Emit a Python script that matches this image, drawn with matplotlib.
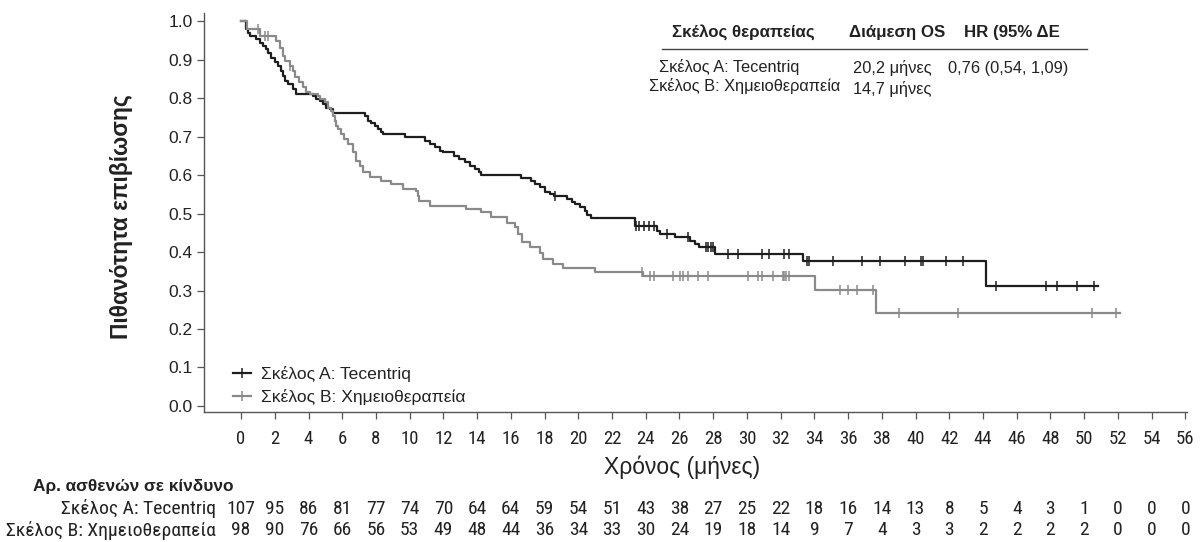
import matplotlib
matplotlib.use("Agg")
import matplotlib.pyplot as plt
from matplotlib.lines import Line2D
import matplotlib.transforms as mtransforms

# ---------------- data ----------------
# Arm A (Tecentriq): step times (months) and survival after each step
a_times = [0, 0.31, 0.41, 0.5, 0.9, 1.1, 1.3, 1.49, 1.59, 1.79, 1.99, 2.19, 2.38, 2.48, 2.58,
           2.78, 3.07, 3.27, 4.26, 4.46, 4.66, 4.85, 5.05, 5.25, 5.45, 7.33, 7.53, 7.73, 7.92,
           8.12, 8.32, 8.42, 9.73, 10.91, 11.2, 11.51, 11.8, 12.0, 12.6, 12.9, 13.29, 13.6, 13.9,
           14.1, 14.22, 16.63, 17.22, 17.42, 17.72, 18.01, 18.31, 18.55, 19.3, 19.6, 19.79, 20.09,
           20.39, 20.52, 20.78, 23.35, 24.64, 24.84, 25.73, 26.62, 26.91, 27.17, 28.1, 33.35, 44.17,
           50.85]
a_surv = [1.0, 0.98, 0.971, 0.963, 0.954, 0.945, 0.937, 0.928, 0.917, 0.906, 0.894, 0.885, 0.872,
          0.859, 0.846, 0.837, 0.824, 0.811, 0.807, 0.798, 0.794, 0.785, 0.776, 0.772, 0.763, 0.755,
          0.742, 0.736, 0.729, 0.72, 0.712, 0.707, 0.699, 0.69, 0.682, 0.673, 0.664, 0.66, 0.651,
          0.643, 0.634, 0.625, 0.617, 0.608, 0.601, 0.592, 0.586, 0.577, 0.569, 0.556, 0.551, 0.545,
          0.538, 0.53, 0.525, 0.517, 0.508, 0.497, 0.488, 0.469, 0.456, 0.447, 0.439, 0.428, 0.421,
          0.413, 0.396, 0.377, 0.313, 0.313]
a_cens_t = [18.6, 23.45, 23.6, 23.9, 24.2, 24.5, 25.25, 26.5, 27.56, 27.72, 27.86, 28.0, 28.9, 29.5,
            30.9, 31.3, 32.2, 32.5, 33.55, 33.7, 35.1, 36.8, 37.9, 39.4, 40.35, 40.45, 41.8, 42.8,
            44.8, 47.75, 48.4, 49.6, 50.6]
a_cens_s = [0.545, 0.469, 0.469, 0.469, 0.469, 0.469, 0.447, 0.439, 0.413, 0.413, 0.413, 0.413,
            0.396, 0.396, 0.396, 0.396, 0.396, 0.396, 0.377, 0.377, 0.377, 0.377, 0.377, 0.377,
            0.377, 0.377, 0.377, 0.377, 0.313, 0.313, 0.313, 0.313, 0.313]

# Arm B (chemotherapy)
b_times = [0, 0.35, 1.1, 2.09, 2.28, 2.48, 2.58, 2.88, 3.07, 3.17, 3.46, 3.66, 3.86, 4.06, 4.56,
           4.66, 4.95, 5.15, 5.35, 5.45, 5.54, 5.64, 5.74, 5.94, 6.13, 6.33, 6.64, 6.83, 7.03, 7.23,
           7.62, 8.31, 8.9, 9.6, 10.39, 10.5, 10.58, 11.18, 13.35, 14.24, 14.84, 15.76, 16.25, 16.45,
           16.65, 17.14, 17.73, 17.93, 18.52, 19.12, 21.0, 23.86, 34.04, 37.68, 52.1]
b_surv = [1.0, 0.98, 0.963, 0.95, 0.932, 0.911, 0.898, 0.885, 0.872, 0.855, 0.842, 0.829, 0.816,
          0.811, 0.807, 0.798, 0.79, 0.776, 0.768, 0.755, 0.742, 0.729, 0.72, 0.707, 0.694, 0.68,
          0.66, 0.638, 0.625, 0.608, 0.595, 0.586, 0.577, 0.564, 0.558, 0.546, 0.534, 0.521, 0.511,
          0.504, 0.491, 0.476, 0.465, 0.447, 0.426, 0.413, 0.398, 0.383, 0.37, 0.359, 0.348, 0.338,
          0.302, 0.242, 0.242]
b_cens_t = [1.0, 1.39, 1.59, 2.88, 23.8, 24.26, 24.46, 25.64, 26.04, 26.23, 26.53, 27.12, 27.72,
            30.09, 30.68, 30.88, 31.57, 32.13, 32.21, 32.32, 32.52, 35.53, 36.02, 36.52, 37.45,
            39.03, 42.5, 50.49, 51.88]
b_cens_s = [0.98, 0.963, 0.963, 0.885, 0.348, 0.338, 0.338, 0.338, 0.338, 0.338, 0.338, 0.338,
            0.338, 0.338, 0.338, 0.338, 0.338, 0.338, 0.338, 0.338, 0.338, 0.302, 0.302, 0.302,
            0.302, 0.242, 0.242, 0.242, 0.242]

risk_times = list(range(0, 57, 2))
risk_a = [107, 95, 86, 81, 77, 74, 70, 64, 64, 59, 54, 51, 43, 38, 27, 25, 22, 18, 16, 14, 13, 8,
          5, 4, 3, 1, 0, 0, 0]
risk_b = [98, 90, 76, 66, 56, 53, 49, 48, 44, 36, 34, 33, 30, 24, 19, 18, 14, 9, 7, 4, 3, 3, 2, 2,
          2, 2, 0, 0, 0]

label_a = "Σκέλος A: Tecentriq"
label_b = "Σκέλος B: Χημειοθεραπεία"
y_ticks = [0.0, 0.1, 0.2, 0.3, 0.4, 0.5, 0.6, 0.7, 0.8, 0.9, 1.0]

# ---------------- style ----------------
plt.rcParams['font.family'] = ['Liberation Sans', 'DejaVu Sans']
narrow = ['Roboto Condensed', 'Liberation Sans', 'DejaVu Sans']
col_a = '#1e1e1e'
col_b = '#8a8a8a'
txt = '#222222'

W, H = 1200, 542
fig = plt.figure(figsize=(W / 100, H / 100), dpi=100)
ax = fig.add_axes([204 / W, 1 - 412 / H, (1187 - 204) / W, (412 - 13) / H])

ax.plot(a_times, a_surv, drawstyle='steps-post', color=col_a, lw=1.6)
ax.plot(b_times, b_surv, drawstyle='steps-post', color=col_b, lw=1.6)
ax.plot(a_cens_t, a_cens_s, ls='none', marker='|', ms=7, mew=1.1, color=col_a)
ax.plot(b_cens_t, b_cens_s, ls='none', marker='|', ms=7, mew=1.1, color=col_b)

ax.set_xlim(-2.2, 56.1)
ax.set_ylim(-0.016, 1.022)
ax.set_xticks(risk_times)
ax.set_yticks(y_ticks)
ax.set_yticklabels([f"{v:.1f}" for v in y_ticks])
for s in ['top', 'right']:
    ax.spines[s].set_visible(False)
for s in ['left', 'bottom']:
    ax.spines[s].set_color('#555555')
    ax.spines[s].set_linewidth(1.0)
ax.tick_params(axis='both', colors='#555555', labelcolor=txt, length=5, width=0.9)
ax.tick_params(axis='x', pad=8, labelsize=13.5)
ax.tick_params(axis='y', pad=3, labelsize=12.5)
for lab in ax.get_xticklabels():
    lab.set_family(narrow)

ax.set_ylabel("Πιθανότητα επιβίωσης", fontsize=16.5, fontweight='bold', color=txt)
ax.yaxis.set_label_coords(-0.072, 0.49)

fig.text(682 / W, 1 - 467 / H, "Χρόνος (μήνες)", ha='center', va='center', fontsize=16.5, color=txt)

# legend
handles = [Line2D([], [], color=col_a, lw=1.6, marker='|', ms=7, mew=1.1),
           Line2D([], [], color=col_b, lw=1.6, marker='|', ms=7, mew=1.1)]
ax.legend(handles, [label_a, label_b], loc='lower left', bbox_to_anchor=(0.013, -0.022),
          frameon=False, fontsize=12.6, handlelength=1.05, handletextpad=0.6, labelspacing=0.38,
          labelcolor=txt)

# summary table (top right)
fs_t = 11.8
fig.text(743 / W, 1 - 32 / H, "Σκέλος θεραπείας", ha='center', va='center', fontsize=12.2,
         fontweight='bold', color=txt)
fig.text(897 / W, 1 - 32 / H, "Διάμεση OS", ha='center', va='center', fontsize=12.2,
         fontweight='bold', color=txt)
fig.text(1012 / W, 1 - 32 / H, "HR (95% ΔΕ", ha='center', va='center', fontsize=12.2,
         fontweight='bold', color=txt)
fig.add_artist(Line2D([662 / W, 1087 / W], [1 - 49 / H, 1 - 49 / H], color='#444444', lw=1.0))
fig.text(729 / W, 1 - 67 / H, label_a, ha='center', va='center', fontsize=fs_t, color=txt)
fig.text(745 / W, 1 - 86 / H, label_b, ha='center', va='center', fontsize=fs_t, color=txt)
fig.text(853 / W, 1 - 68 / H, "20,2 μήνες", ha='left', va='center', fontsize=fs_t, color=txt)
fig.text(853 / W, 1 - 89 / H, "14,7 μήνες", ha='left', va='center', fontsize=fs_t, color=txt)
fig.text(948 / W, 1 - 68 / H, "0,76 (0,54, 1,09)", ha='left', va='center', fontsize=fs_t, color=txt)

# risk table
fig.text(33 / W, 1 - 486 / H, "Αρ. ασθενών σε κίνδυνο", ha='left', va='center', fontsize=12.4,
         fontweight='bold', color=txt)
trans = mtransforms.blended_transform_factory(ax.transData, fig.transFigure)
for row, vals, lab in [(509, risk_a, label_a), (530, risk_b, label_b)]:
    fig.text(216 / W, 1 - row / H, lab, ha='right', va='center', fontsize=14, family=narrow,
             color=txt)
    for t, v in zip(risk_times, vals):
        ax.text(t, 1 - row / H, str(v), transform=trans, ha='center', va='center', fontsize=14,
                family=narrow, color=txt, clip_on=False)

fig.savefig("out.png", dpi=100)
